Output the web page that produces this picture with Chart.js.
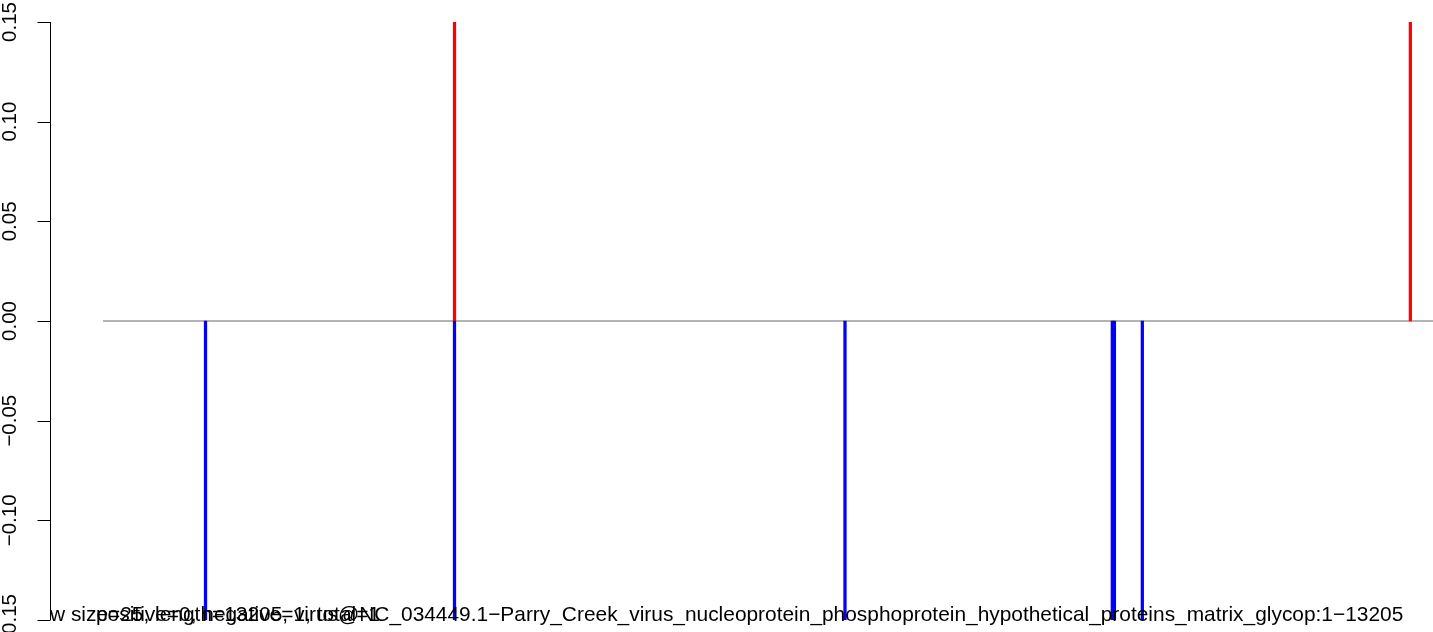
<!DOCTYPE html>
<html>
<head>
<meta charset="utf-8">
<script src="https://cdn.jsdelivr.net/npm/chart.js@4/dist/chart.umd.min.js"></script>
<style>
  html, body { margin:0; padding:0; background:#fff; overflow:hidden; }
  #wrap { position:relative; width:1433px; height:632px; }
</style>
</head>
<body>
<div id="wrap"><canvas id="chart-signal"></canvas></div>
<script>
/* ---- data (genome positions) ---- */
const GENOME_LEN   = 13205;
const posPositions = [3490, 12980];
const posValues    = [1, 1];                 // clipped above 0.15
const negPositions = [1018, 3490, 7367, 10021, 10042, 10319];
const negValues    = [-1, -1, -1, -1, -1, -1]; // clipped below -0.15
const zeroLineX    = [1, GENOME_LEN];
const yTicks       = [-0.15, -0.10, -0.05, 0.00, 0.05, 0.10, 0.15];
const yTickLabels  = ['\u22120.15', '\u22120.10', '\u22120.05', '0.00', '0.05', '0.10', '0.15'];
const bottomTextA  = 'w size=25, length=13205, virus@NC_034449.1\u2212Parry_Creek_virus_nucleoprotein_phosphoprotein_hypothetical_proteins_matrix_glycop:1\u221213205';
const bottomTextB  = 'positive=0, negative=1, total=1';

const FONT = '"Liberation Sans", Arial, Helvetica, sans-serif';

// R-style left axis + bottom notes
const rAxisPlugin = {
  id: 'rAxis',
  afterDraw(chart){
    const ctx = chart.ctx, y = chart.scales.y, area = chart.chartArea;
    const ax = area.left - 0.5;
    ctx.save();
    ctx.strokeStyle = '#000'; ctx.lineWidth = 1;
    ctx.beginPath();
    ctx.moveTo(ax, y.getPixelForValue(yTicks[0]));
    ctx.lineTo(ax, y.getPixelForValue(yTicks[yTicks.length-1]));
    yTicks.forEach(v => {
      const py = Math.round(y.getPixelForValue(v)) + 0.5;
      ctx.moveTo(ax, py); ctx.lineTo(ax - 13, py);
    });
    ctx.stroke();

    ctx.fillStyle = '#000';
    ctx.font = '20.5px ' + FONT;
    ctx.textAlign = 'center'; ctx.textBaseline = 'alphabetic';
    yTicks.forEach((v, i) => {
      ctx.save();
      ctx.translate(15.5, y.getPixelForValue(v));
      ctx.rotate(-Math.PI/2);
      ctx.fillText(yTickLabels[i], 0, 0);
      ctx.restore();
    });

    ctx.font = '20.9px ' + FONT;
    ctx.textAlign = 'left';
    ctx.fillText(bottomTextA, 50, 621);
    ctx.fillText(bottomTextB, 96, 621);
    ctx.restore();
  }
};

const toBars = (xs, vs) => xs.map((x, i) => ({ x: x, y: [0, vs[i]] }));

new Chart(document.getElementById('chart-signal'), {
  type: 'bar',
  data: {
    datasets: [
      { type:'line', data: zeroLineX.map(x => ({x:x, y:0})), borderColor:'#9a9a9a', borderWidth:1.5,
        pointRadius:0, clip:0, order:3 },
      { label:'positive', data: toBars(posPositions, posValues), backgroundColor:'#ff0000',
        barThickness:2.6, grouped:false, clip:0, order:2 },
      { label:'negative', data: toBars(negPositions, negValues), backgroundColor:'#0000ff',
        barThickness:2.6, grouped:false, clip:0, order:1 }
    ]
  },
  options: {
    responsive: true, maintainAspectRatio: false, animation: false,
    layout: { padding: { left:51, right:0, top:22, bottom:12 } },
    plugins: { legend:{ display:false }, tooltip:{ enabled:false } },
    scales: {
      x: { type:'linear', min:-516, max:GENOME_LEN, offset:false, display:false },
      y: { type:'linear', min:-0.15, max:0.15, display:false }
    }
  },
  plugins: [rAxisPlugin]
});
</script>
</body>
</html>
